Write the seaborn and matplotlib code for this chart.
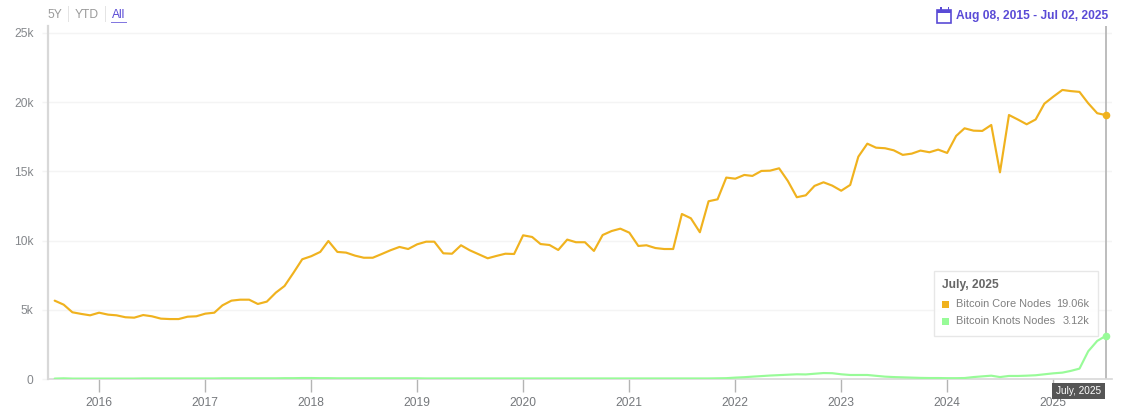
"""
Bitcoin Core vs Bitcoin Knots node counts, monthly
"""
import pandas as pd
import matplotlib
matplotlib.use('Agg')
import matplotlib.pyplot as plt
from matplotlib.patches import Rectangle
import seaborn as sns

W, H = 1121, 412

# node counts in thousands, Aug 2015 - Jul 2025
core_nodes = [
    5.66, 5.37, 4.82, 4.70, 4.60, 4.79, 4.65, 4.60, 4.46, 4.43, 4.62, 4.53,
    4.36, 4.33, 4.33, 4.50, 4.53, 4.72, 4.79, 5.32, 5.66, 5.73, 5.73, 5.42,
    5.59, 6.24, 6.72, 7.68, 8.65, 8.87, 9.18, 9.97, 9.18, 9.13, 8.91, 8.76,
    8.76, 9.03, 9.30, 9.54, 9.39, 9.73, 9.92, 9.92, 9.08, 9.05, 9.66, 9.30,
    9.01, 8.72, 8.89, 9.05, 9.03, 10.38, 10.26, 9.75, 9.68, 9.32, 10.07, 9.88,
    9.88, 9.25, 10.40, 10.69, 10.86, 10.57, 9.61, 9.66, 9.46, 9.39, 9.39, 11.92,
    11.61, 10.60, 12.84, 12.98, 14.55, 14.47, 14.74, 14.67, 15.03, 15.05, 15.22, 14.31,
    13.13, 13.27, 13.95, 14.21, 13.97, 13.60, 14.02, 16.06, 17.00, 16.71, 16.67, 16.52,
    16.19, 16.28, 16.50, 16.38, 16.57, 16.33, 17.56, 18.11, 17.94, 17.92, 18.35, 14.93,
    19.07, 18.74, 18.40, 18.75, 19.89, 20.40, 20.88, 20.80, 20.74, 19.92, 19.20, 19.06,
]
knots_nodes = [
    0.03, 0.05, 0.03, 0.03, 0.03, 0.03, 0.03, 0.03, 0.03, 0.03, 0.04, 0.04,
    0.04, 0.04, 0.04, 0.04, 0.04, 0.04, 0.04, 0.05, 0.05, 0.05, 0.05, 0.05,
    0.05, 0.05, 0.06, 0.06, 0.07, 0.07, 0.06, 0.06, 0.05, 0.05, 0.05, 0.05,
    0.05, 0.05, 0.05, 0.05, 0.05, 0.05, 0.04, 0.04, 0.04, 0.04, 0.04, 0.04,
    0.04, 0.04, 0.04, 0.04, 0.04, 0.04, 0.04, 0.04, 0.04, 0.04, 0.04, 0.04,
    0.04, 0.04, 0.04, 0.04, 0.04, 0.04, 0.04, 0.04, 0.04, 0.04, 0.04, 0.04,
    0.04, 0.04, 0.04, 0.05, 0.06, 0.10, 0.13, 0.17, 0.21, 0.25, 0.28, 0.31,
    0.34, 0.33, 0.38, 0.43, 0.42, 0.34, 0.29, 0.29, 0.29, 0.23, 0.17, 0.14,
    0.12, 0.10, 0.08, 0.07, 0.07, 0.06, 0.06, 0.07, 0.14, 0.19, 0.24, 0.14,
    0.22, 0.22, 0.24, 0.27, 0.34, 0.41, 0.46, 0.58, 0.75, 2.00, 2.75, 3.12,
]
months = pd.date_range('2015-08-01', periods=len(core_nodes), freq='MS')
y_ticks = [0, 5, 10, 15, 20, 25]
y_labels = ['0', '5k', '10k', '15k', '20k', '25k']
years = [2016, 2017, 2018, 2019, 2020, 2021, 2022, 2023, 2024, 2025]

CORE = '#F0B21E'
KNOTS = '#98FB98'
PURPLE = '#5A4BD6'

sns.set_style('white')
plt.rcParams['font.family'] = ['Liberation Sans', 'DejaVu Sans']

fig = plt.figure(figsize=(W / 100, H / 100), dpi=100)
ax = fig.add_axes([48 / W, (H - 379) / H, (1112 - 48) / W, (379 - 26) / H])

sns.lineplot(x=months, y=core_nodes, ax=ax, color=CORE, linewidth=1.55, zorder=3)
sns.lineplot(x=months, y=knots_nodes, ax=ax, color=KNOTS, linewidth=1.55, zorder=3)

ax.set_xlim(pd.Timestamp('2015-07-09'), pd.Timestamp('2025-07-22'))
ax.set_ylim(0, 25.5)
ax.set_xlabel('')
ax.set_ylabel('')

ax.set_yticks(y_ticks)
ax.set_yticklabels(y_labels)
ax.set_xticks([pd.Timestamp(f'{y}-01-01') for y in years])
ax.set_xticklabels([str(y) for y in years])
ax.grid(True, axis='y', color='#F4F4F4', linewidth=1)
ax.grid(False, axis='x')
ax.set_axisbelow(True)
ax.tick_params(axis='y', length=4.3, width=1, color='#F4F4F4', labelcolor='#85888C',
               labelsize=8.64, pad=6, left=True)
ax.tick_params(axis='x', length=9.4, width=1, color='#B4B4B4', labelcolor='#75787C',
               labelsize=8.64, pad=3.6, bottom=True)

for side in ['top', 'right']:
    ax.spines[side].set_visible(False)
ax.spines['left'].set_color('#D8D8D8')
ax.spines['left'].set_linewidth(1.6)
ax.spines['bottom'].set_color('#D8D8D8')
ax.spines['bottom'].set_linewidth(1.2)

# hover crosshair and end markers
last = months[-1]
ax.axvline(last, color='#B8B8B8', linewidth=1.3, zorder=2)
ax.scatter([last], [core_nodes[-1]], s=20, color=CORE, zorder=4, clip_on=False)
ax.scatter([last], [knots_nodes[-1]], s=20, color=KNOTS, zorder=4, clip_on=False)


# everything below sits in pixel coordinates of the figure
def px_text(x, y, s, **kw):
    fig.text(x / W, 1 - y / H, s, va='center', **kw)


def px_rect(x, y, w, h, **kw):
    r = Rectangle((x / W, 1 - (y + h) / H), w / W, h / H, transform=fig.transFigure, **kw)
    fig.add_artist(r)


# range buttons
px_text(47, 14.5, '5Y', fontsize=8.64, color='#9A9A9A')
px_text(74.5, 14.5, 'YTD', fontsize=8.64, color='#9A9A9A')
px_text(112, 14.5, 'All', fontsize=8.64, color=PURPLE)
px_rect(68, 6, 1, 16, facecolor='#E4E4E4', edgecolor='none')
px_rect(105, 6, 1, 16, facecolor='#E4E4E4', edgecolor='none')
px_rect(110.5, 22, 16, 1.3, facecolor=PURPLE, edgecolor='none', alpha=0.75)

# date range with calendar icon
px_text(1108, 15.5, 'Aug 08, 2015 - Jul 02, 2025', fontsize=8.64, color=PURPLE,
        fontweight='bold', ha='right')
px_rect(937, 9.5, 14.5, 13, facecolor='white', edgecolor=PURPLE, linewidth=1.2)
px_rect(937, 9.5, 14.5, 3, facecolor=PURPLE, edgecolor='none')
px_rect(940, 7, 1.6, 4, facecolor=PURPLE, edgecolor='none')
px_rect(947.5, 7, 1.6, 4, facecolor=PURPLE, edgecolor='none')

# tooltip
px_rect(933.5, 270.5, 164, 65, facecolor='white', edgecolor='#E6E6E6', linewidth=1, alpha=0.93, zorder=5)
fig.text(942 / W, 1 - 285 / H, 'July, 2025', va='center', fontsize=8.64, color='#666666',
         fontweight='bold', zorder=6)
rows = [('Bitcoin Core Nodes', '19.06k', CORE, 304), ('Bitcoin Knots Nodes', '3.12k', KNOTS, 321)]
for name, val, col, y in rows:
    fig.add_artist(Rectangle((942 / W, 1 - (y + 3.5) / H), 7 / W, 7 / H, transform=fig.transFigure,
                             facecolor=col, edgecolor='none', zorder=6))
    fig.text(955.5 / W, 1 - y / H, name, va='center', fontsize=7.92, color='#808080', zorder=6)
    fig.text(1089 / W, 1 - y / H, val, va='center', ha='right', fontsize=7.92, color='#808080', zorder=6)

# axis pointer label
px_rect(1052, 383, 52.5, 16, facecolor='#555555', edgecolor='none', zorder=6)
fig.text(1079 / W, 1 - 390.5 / H, 'July, 2025', va='center', ha='center', fontsize=7.2,
         color='white', zorder=7)

plt.savefig('out.png', dpi=100)
print('saved out.png')
